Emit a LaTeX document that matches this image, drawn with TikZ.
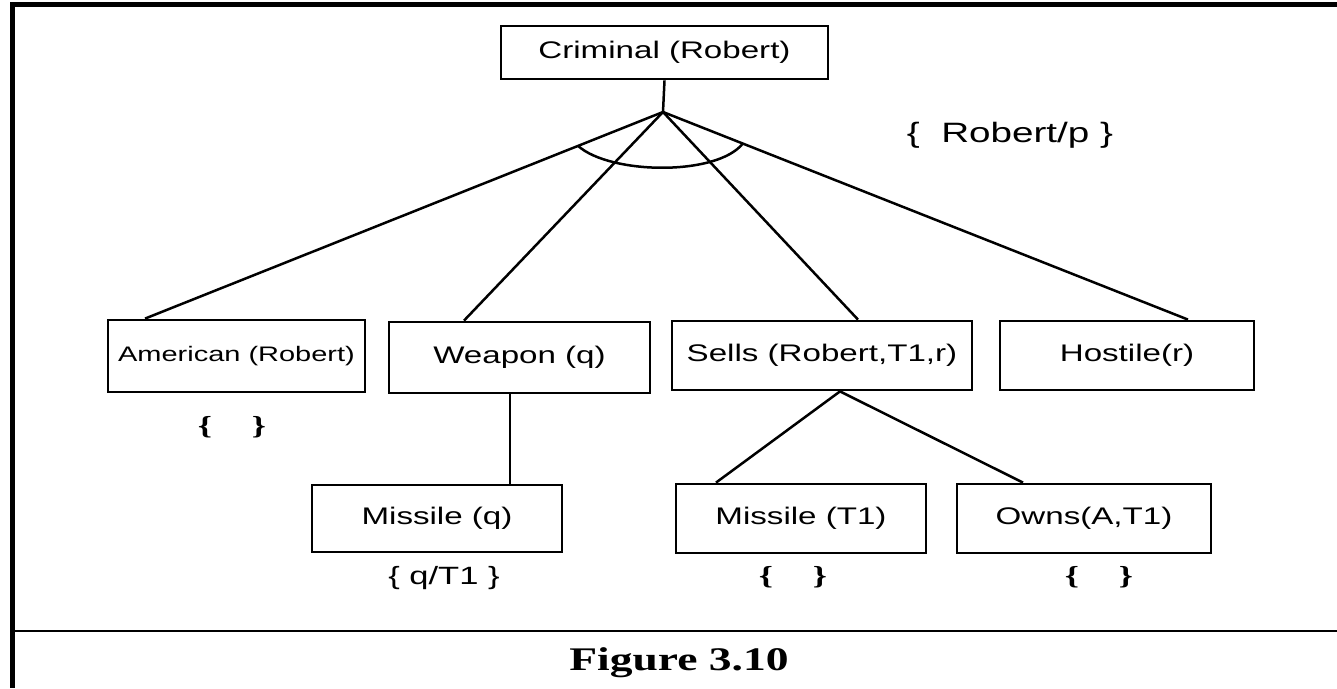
\documentclass[tikz,border=0pt]{standalone}
\usepackage{fontspec}
\setmainfont{Liberation Sans}[FakeStretch=1.38]
\newfontfamily\figfont{Liberation Serif Bold}[FakeStretch=1.38]
\usetikzlibrary{calc}
\tikzset{
    box/.style={draw, rectangle, line width=2.8pt, minimum height=69pt, inner sep=0pt, align=center, font=\fontsize{24}{26}\selectfont},
    link/.style={line width=2.5pt},
    subst/.style={inner sep=0pt, font=\fontsize{25}{27}\selectfont},
    nosubst/.style={inner sep=0pt, font=\figfont\fontsize{26}{28}\selectfont}
}

\begin{document}
\begin{tikzpicture}[x=1pt,y=-1pt]
\useasboundingbox (0,0) rectangle (1337,688);
% frame
\draw[line width=5pt] (1337,4) -- (12,4) -- (12,688);
\draw[line width=2pt] (12,631) -- (1337,631);

% goal and subgoals
\node[box, minimum width=327pt, minimum height=53pt] (crim) at (664.5,52.5) {Criminal (Robert)};
\node[box, minimum width=257pt, minimum height=72pt, font=\fontsize{21}{23}\selectfont] (amer) at (236.5,356) {American (Robert)};
\node[box, minimum width=261pt, minimum height=71pt] (weap) at (519.5,357.5) {Weapon (q)};
\node[box, minimum width=300pt] (sells) at (822,355.5) {Sells (Robert,T1,r)};
\node[box, minimum width=254pt] (host) at (1127,355.5) {Hostile(r)};
\node[box, minimum width=250pt, minimum height=67pt] (missq) at (437,518.5) {Missile (q)};
\node[box, minimum width=250pt] (misst) at (801,518.5) {Missile (T1)};
\node[box, minimum width=254pt] (owns) at (1084,518.5) {Owns(A,T1)};

% substitutions
\node[subst, font=\fontsize{28}{30}\selectfont] (robp) at (1010,135) {\{\ \ Robert/p\ \}};
\node[nosubst] (amersub) at (232,427) {\{\hspace{40pt}\}};
\node[subst] (missqsub) at (444,578) {\{\ q/T1\ \}};
\node[nosubst] (misstsub) at (793,577) {\{\hspace{40pt}\}};
\node[nosubst] (ownssub) at (1099,577) {\{\hspace{40pt}\}};

\node[font=\figfont\fontsize{33}{36}\selectfont] (fig) at (679,663) {Figure 3.10};

% connectors
\coordinate (jn) at (663,112);
\coordinate (amtop) at ([xshift=-91.5pt]amer.north);
\coordinate (wptop) at ([xshift=-55.5pt]weap.north);
\coordinate (sltop) at ([xshift=36pt]sells.north);
\coordinate (hotop) at ([xshift=61pt]host.north);
\coordinate (slbot) at ([xshift=18pt]sells.south);
\draw[link] (crim.south) -- (jn);
\draw[link] (jn) -- (amtop);
\draw[link] (jn) -- (wptop);
\draw[link] (jn) -- (sltop);
\draw[link] (jn) -- (hotop);
\draw[link] ($(jn)!0.164!(amtop)$) .. controls +(32,28.7) and +(-26,32.7) .. ($(jn)!0.152!(hotop)$);
\draw[line width=1.8pt] ([xshift=-9.5pt]weap.south) -- ([xshift=-9.5pt]weap.south |- missq.north);
\draw[link] (slbot) -- ([xshift=-85pt]misst.north);
\draw[link] (slbot) -- ([xshift=-61pt]owns.north);
\end{tikzpicture}
\end{document}
